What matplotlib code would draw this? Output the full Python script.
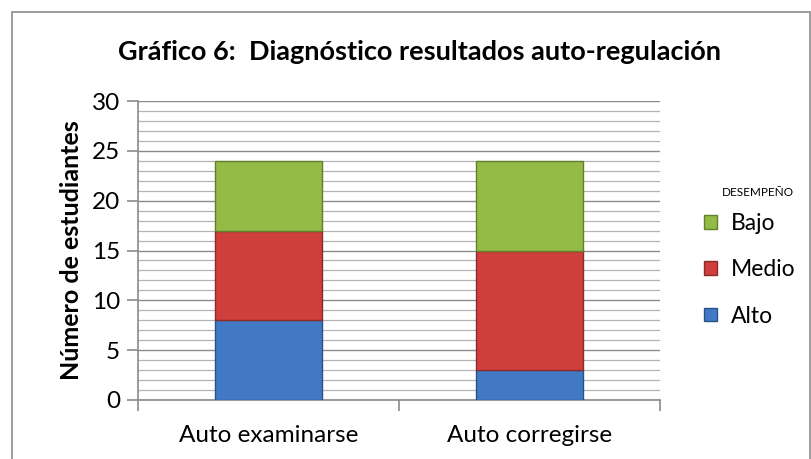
import matplotlib
matplotlib.use("Agg")
import matplotlib.pyplot as plt
from matplotlib.patches import Rectangle
from matplotlib.ticker import MultipleLocator

categories = ["Auto examinarse", "Auto corregirse"]
series_names = ["Alto", "Medio", "Bajo"]
alto = [8, 3]
medio = [9, 12]
bajo = [7, 9]
title = "Gráfico 6:  Diagnóstico resultados auto-regulación"
ylabel = "Número de estudiantes"
legend_title = "DESEMPEÑO"

colors = {"Alto": "#4279c4", "Medio": "#cf3f3c", "Bajo": "#93bb45"}
edges = {"Alto": "#2a5288", "Medio": "#8e2a28", "Bajo": "#62802c"}

plt.rcParams['font.family'] = ['Lato', 'DejaVu Sans']

fig = plt.figure(figsize=(8.11, 4.59), dpi=100)
# outer frame
fig.patches.append(Rectangle((12/811, -0.01), (810-12)/811, 1 - 12/459 + 0.01,
                             transform=fig.transFigure, fill=False,
                             edgecolor="#8c8c8c", linewidth=1.2))

ax = fig.add_axes([138/811, 1-400/459, (660-138)/811, (400-101)/459])
x = list(range(len(categories)))
width = 0.41
bottom = [0, 0]
handles = []
for name, vals in zip(series_names, [alto, medio, bajo]):
    b = ax.bar(x, vals, width, bottom=bottom, color=colors[name],
               edgecolor=edges[name], linewidth=1.0, label=name, zorder=3)
    handles.append(b)
    bottom = [bb + v for bb, v in zip(bottom, vals)]

ax.set_xlim(-0.5, 1.5)
ax.set_ylim(0, 30)
ax.yaxis.set_major_locator(MultipleLocator(5))
ax.yaxis.set_minor_locator(MultipleLocator(1))
ax.grid(which="major", axis="y", color="#8a8a8a", linewidth=1.0, zorder=0)
ax.grid(which="minor", axis="y", color="#b4b4b4", linewidth=0.9, zorder=0)
ax.set_axisbelow(True)

for s in ["top", "right"]:
    ax.spines[s].set_visible(False)
ax.spines["left"].set_color("#8a8a8a")
ax.spines["bottom"].set_color("#8a8a8a")
ax.spines["left"].set_linewidth(1.2)
ax.spines["bottom"].set_linewidth(1.2)

ax.set_xticks([-0.5, 0.5, 1.5])
ax.set_xticklabels([])
ax.set_xticks(x, minor=True)
ax.set_xticklabels(categories, minor=True, fontsize=17.5)
ax.tick_params(axis="x", which="major", length=8, color="#8a8a8a", width=1.2)
ax.tick_params(axis="x", which="minor", length=0, pad=18)
ax.tick_params(axis="y", which="major", length=8, color="#8a8a8a", width=1.2,
               labelsize=17.5, pad=5)
ax.tick_params(axis="y", which="minor", length=0)

ax.set_ylabel(ylabel, fontsize=18, fontweight="bold", labelpad=6)
fig.text(419/811, 1 - 52/459, title, ha="center", va="center",
         fontsize=19.5, fontweight="bold")

fig.text(758/811, 1 - 193/459, legend_title, ha="center", va="center",
         fontsize=8.5)
leg = ax.legend(handles[::-1], series_names[::-1],
                loc="center left", bbox_to_anchor=(1.045, 0.435), frameon=False,
                fontsize=16.5, handlelength=0.55,
                handleheight=0.55, labelspacing=1.1, handletextpad=0.6)

fig.savefig("out.png", dpi=100)
